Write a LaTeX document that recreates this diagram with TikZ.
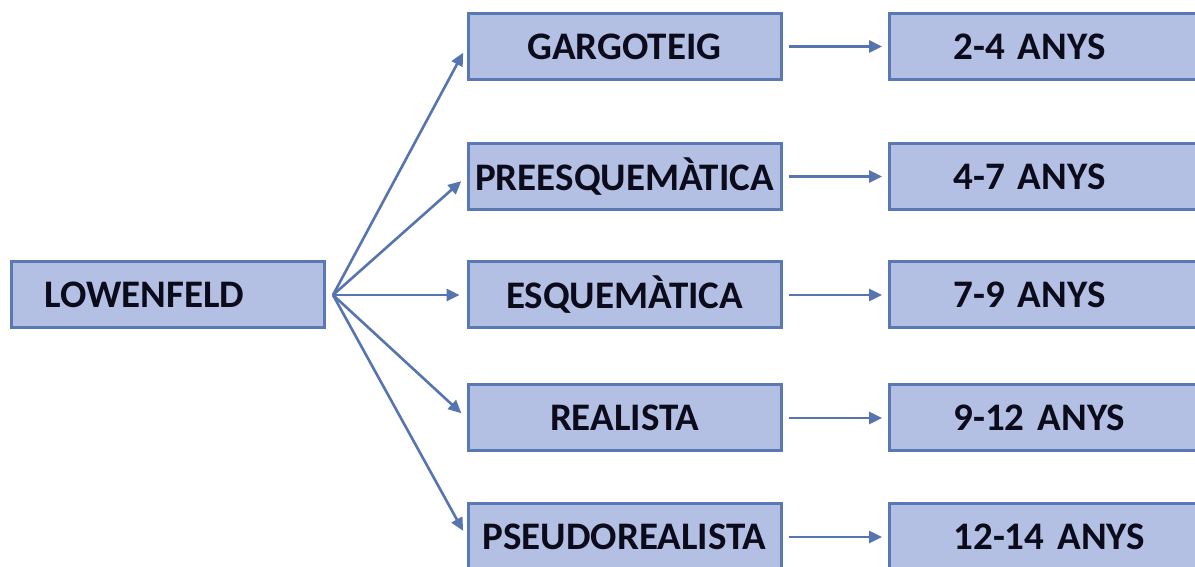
\documentclass[tikz,border=0pt]{standalone}
\usepackage{fontspec}
\setmainfont{Carlito}
\usetikzlibrary{arrows.meta}
\definecolor{boxfill}{HTML}{B3BFE3}
\definecolor{boxline}{HTML}{5A78B4}
\definecolor{arrline}{HTML}{5574B0}
\definecolor{txt}{HTML}{0B0B1C}
\newcommand\mytightspace{\spaceskip=0.16em\relax}
\tikzset{
  stage/.style={draw=boxline, line width=3pt, fill=boxfill, minimum width=313pt, minimum height=66pt,
    inner sep=0pt, font={\fontsize{39}{43}\selectfont\bfseries\mytightspace}, text=txt},
  agebox/.style={stage, anchor=west, text width=255pt, align=left, inner xsep=64pt},
  arr/.style={draw=arrline, line width=2.6pt, -{Triangle[length=13pt,width=12pt]}},
}
\begin{document}
\begin{tikzpicture}[x=1pt,y=1pt]
\useasboundingbox (0,0) rectangle (1195,567);
\fill[white] (0,0) rectangle (1195,567);
% root
\node[stage, anchor=west, text width=247pt, align=left, inner xsep=33pt] (root) at (10,272) {LOWENFELD};
\coordinate (fan) at (333,272);
% stages
\node[stage] (s1) at (624.5,520.5) {GARGOTEIG};
\node[stage] (s2) at (624.5,390.5) {PREESQUEMÀTICA};
\node[stage] (s3) at (624.5,272) {ESQUEMÀTICA};
\node[stage] (s4) at (624.5,149) {REALISTA};
\node[stage] (s5) at (624.5,30) {PSEUDOREALISTA};
% ages
\node[agebox] (a1) at (888,520.5) {2-4 ANYS};
\node[agebox] (a2) at (888,390.5) {4-7 ANYS};
\node[agebox] (a3) at (888,272) {7-9 ANYS};
\node[agebox] (a4) at (888,149) {9-12 ANYS};
\node[agebox] (a5) at (888,30) {12-14 ANYS};
% fan connectors
\foreach \s in {s1,s2,s3,s4,s5}{
  \draw[arr, shorten >=7pt] (fan) -- (\s.west);
}
% age connectors
\foreach \i in {1,...,5}{
  \draw[arr, shorten <=6pt, shorten >=6pt] (s\i.east) -- (a\i.west);
}
\end{tikzpicture}
\end{document}
